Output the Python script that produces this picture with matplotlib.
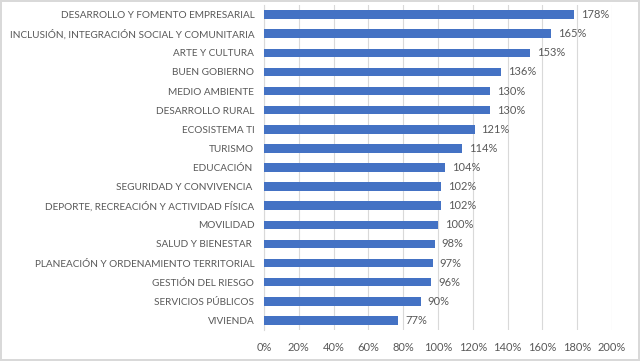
import matplotlib
matplotlib.use("Agg")
import matplotlib.pyplot as plt
from matplotlib.ticker import PercentFormatter

categorias = ["DESARROLLO Y FOMENTO EMPRESARIAL",
              "INCLUSIÓN, INTEGRACIÓN SOCIAL Y COMUNITARIA",
              "ARTE Y CULTURA",
              "BUEN GOBIERNO",
              "MEDIO AMBIENTE",
              "DESARROLLO RURAL",
              "ECOSISTEMA TI",
              "TURISMO",
              "EDUCACIÓN ",
              "SEGURIDAD Y CONVIVENCIA ",
              "DEPORTE, RECREACIÓN Y ACTIVIDAD FÍSICA",
              "MOVILIDAD",
              "SALUD Y BIENESTAR ",
              "PLANEACIÓN Y ORDENAMIENTO TERRITORIAL",
              "GESTIÓN DEL RIESGO",
              "SERVICIOS PÚBLICOS",
              "VIVIENDA"]
valores = [178, 165, 153, 136, 130, 130, 121, 114, 104, 102, 102, 100, 98, 97, 96, 90, 77]
ticks_x = [0, 20, 40, 60, 80, 100, 120, 140, 160, 180, 200]

gris = "#595959"
plt.rcParams['font.family'] = ['Lato', 'DejaVu Sans']

fig = plt.figure(figsize=(6.4, 3.61), dpi=100)
fig.patch.set_edgecolor("#d9d9d9")
fig.patch.set_linewidth(1.5)
ax = fig.add_axes([0.4125, 0.086, 0.5437, 0.9])

pos = list(range(len(categorias)))[::-1]
ax.barh(pos, valores, height=0.45, color="#4472C4", zorder=3)
for p, v in zip(pos, valores):
    ax.text(v + 4, p, f"{v}%", va="center", ha="left", fontsize=8, color=gris)

ax.set_yticks(pos)
ax.set_yticklabels(categorias, fontsize=7.2, color=gris)
ax.set_ylim(-0.5, len(categorias) - 0.5)
ax.set_xlim(0, 200)
ax.set_xticks(ticks_x)
ax.xaxis.set_major_formatter(PercentFormatter(decimals=0))
ax.tick_params(axis='x', labelsize=8, colors=gris, length=0, pad=9)
ax.tick_params(axis='y', length=0, pad=7)
ax.grid(axis='x', color="#d9d9d9", linewidth=0.8, zorder=0)
for s in ["top", "right", "bottom"]:
    ax.spines[s].set_visible(False)
ax.spines['left'].set_color("#d9d9d9")

fig.savefig("out.png", dpi=100, edgecolor=fig.get_edgecolor())
